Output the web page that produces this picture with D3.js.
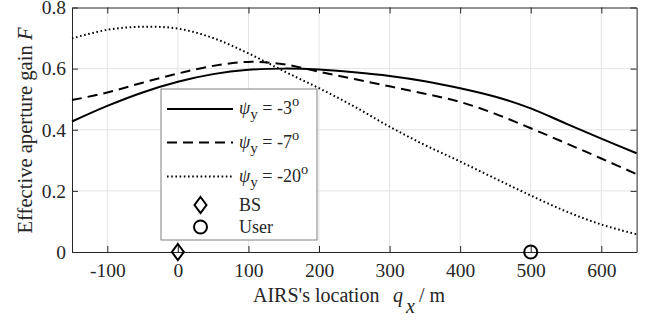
<!DOCTYPE html>
<html><head><meta charset="utf-8">
<script src="https://cdn.jsdelivr.net/npm/d3@7/dist/d3.min.js"></script>
<style>body{margin:0;background:#fff}svg{display:block}</style>
</head><body><svg id="c" width="657" height="322"></svg>
<script>
const xs = [-150,-100,-50,0,50,100,150,200,250,300,350,400,450,500,550,600,650];
const psi3  = [0.427,0.478,0.522,0.557,0.582,0.596,0.600,0.597,0.588,0.576,0.559,0.536,0.508,0.470,0.420,0.371,0.323];
const psi7  = [0.497,0.522,0.554,0.584,0.609,0.622,0.614,0.590,0.566,0.542,0.518,0.491,0.452,0.405,0.356,0.306,0.255];
const psi20 = [0.699,0.727,0.737,0.731,0.700,0.650,0.592,0.536,0.476,0.410,0.350,0.296,0.240,0.185,0.133,0.090,0.058];
const xTicks = [-100,0,100,200,300,400,500,600];
const yTicks = [0,0.2,0.4,0.6,0.8];
const seriesNames = ["-3","-7","-20"];
const markers = [{name:"BS", x:0, y:0, shape:"diamond"},{name:"User", x:500, y:0, shape:"circle"}];

const FONT = "Liberation Serif, 'Times New Roman', Times, serif";
const svg = d3.select("#c");
const L=72, R=636.6, T=7.5, B=252;
const x = d3.scaleLinear().domain([-150,650]).range([L,R]);
const y = d3.scaleLinear().domain([0,0.8]).range([B,T]);
const fsTick = 19.5, fsLab = 20, fsLeg = 18;

function txt(sel, size){ return sel.attr("font-family",FONT).style("font-family",FONT).style("font-size",size+"px").style("fill","#262626"); }

// grid
svg.append("g").selectAll("line").data(xTicks).join("line")
  .attr("x1",d=>x(d)).attr("x2",d=>x(d)).attr("y1",T).attr("y2",B)
  .attr("stroke","#e3e3e3").attr("stroke-width",1);
svg.append("g").selectAll("line").data(yTicks.slice(1,-1)).join("line")
  .attr("y1",d=>y(d)).attr("y2",d=>y(d)).attr("x1",L).attr("x2",R)
  .attr("stroke","#e3e3e3").attr("stroke-width",1);

// axes box with inner ticks
const tl = 6;
const axB = d3.axisBottom(x).tickValues(xTicks).tickSizeInner(-tl).tickSizeOuter(0).tickPadding(11).tickFormat(d=>String(d));
const axT = d3.axisTop(x).tickValues(xTicks).tickSizeInner(-tl).tickSizeOuter(0).tickFormat("");
const axL = d3.axisLeft(y).tickValues(yTicks).tickSizeInner(-tl).tickSizeOuter(0).tickPadding(6).tickFormat(d=>d===0?"0":d3.format(".1f")(d));
const axR = d3.axisRight(y).tickValues(yTicks).tickSizeInner(-tl).tickSizeOuter(0).tickFormat("");
function style(g){g.attr("font-family",FONT);g.select(".domain").attr("stroke","#262626");g.selectAll(".tick line").attr("stroke","#262626");
  txt(g.selectAll("text"), fsTick);}
svg.append("g").attr("transform",`translate(0,${B})`).call(axB).call(style);
svg.append("g").attr("transform",`translate(0,${T})`).call(axT).call(style);
svg.append("g").attr("transform",`translate(${L},0)`).call(axL).call(style);
svg.append("g").attr("transform",`translate(${R},0)`).call(axR).call(style);

// curves
const line = d3.line().x((d,i)=>x(xs[i])).y(d=>y(d)).curve(d3.curveCatmullRom);
const styles = [{dash:null},{dash:"10,6"},{dash:"1.6,2.6"}];
const data = [psi3,psi7,psi20];
data.forEach((s,i)=>{
  svg.append("path").attr("d",line(s)).attr("fill","none").attr("stroke","#000")
    .attr("stroke-width",2).attr("stroke-dasharray",styles[i].dash);
});

// legend
const lg = svg.append("g");
lg.append("rect").attr("x",161).attr("y",89).attr("width",156).attr("height",151)
  .attr("fill","#fff").attr("stroke","#808080").attr("stroke-width",1);
const ly = [109,142.5,176.5];
seriesNames.forEach((n,i)=>{
  lg.append("line").attr("x1",167).attr("x2",233).attr("y1",ly[i]).attr("y2",ly[i])
    .attr("stroke","#000").attr("stroke-width",2).attr("stroke-dasharray",styles[i].dash);
  const t = txt(lg.append("text").attr("x",239).attr("y",ly[i]+5), fsLeg);
  t.append("tspan").style("font-style","italic").text("ψ");
  t.append("tspan").attr("dy",5).style("font-size",(fsLeg*0.85)+"px").text("y");
  t.append("tspan").attr("dy",-5).text(" = "+n);
  t.append("tspan").attr("dy",-8).style("font-size",(fsLeg*0.8)+"px").text("o");
});
function drawMarker(g,shape,cx,cy){
  if(shape==="diamond"){
    g.append("path").attr("d",`M${cx},${cy-8}L${cx+6},${cy}L${cx},${cy+8}L${cx-6},${cy}Z`)
      .attr("fill","none").attr("stroke","#000").attr("stroke-width",2);
  } else {
    g.append("circle").attr("cx",cx).attr("cy",cy).attr("r",6.5)
      .attr("fill","none").attr("stroke","#000").attr("stroke-width",2);
  }
}
const my = [205,227];
markers.forEach((m,i)=>{
  drawMarker(lg,m.shape,200.5,my[i]);
  txt(lg.append("text").attr("x",239).attr("y",my[i]+6), fsLeg).text(m.name);
  drawMarker(svg,m.shape,x(m.x),y(m.y));
});

// axis labels
const xl = txt(svg.append("text").attr("x",253).attr("y",302), fsLab);
xl.append("tspan").text("AIRS's location");
xl.append("tspan").attr("x",393).style("font-style","italic").text("q");
xl.append("tspan").style("font-style","italic").attr("x",406).attr("dy",11).text("x");
xl.append("tspan").attr("x",419).attr("dy",-11).text("/ m");

const yl = txt(svg.append("text").attr("transform",`translate(31.5,130.5) rotate(-90)`).attr("text-anchor","middle"), 20.6);
yl.append("tspan").text("Effective aperture gain ");
yl.append("tspan").style("font-style","italic").text("F");
</script></body></html>
